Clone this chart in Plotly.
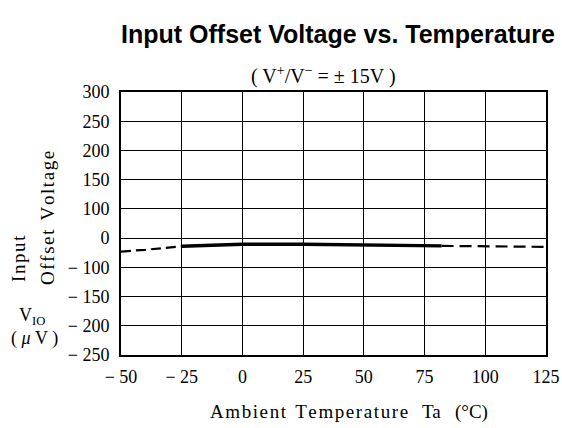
import plotly.graph_objects as go

# Data (µV, relative to the "0" gridline; one gridline step = 50)
temps_low = [-50, -40, -25]
vio_low = [-23, -20, -14]
temps_mid = [-25, 0, 25, 50, 75, 82]
vio_mid = [-14, -10.5, -10.5, -11.5, -13, -13.3]
temps_high = [82, 100, 125]
vio_high = [-13.3, -14, -15]

x_ticks = [-50, -25, 0, 25, 50, 75, 100, 125]
x_ticktext = ["− 50", "− 25", "0", "25", "50", "75", "100", "125"]
y_ticks = [-200, -150, -100, -50, 0, 50, 100, 150, 200, 250]
y_ticktext = ["− 250", "− 200", "− 150", "− 100", "0", "100", "150", "200", "250", "300"]

serif = "Liberation Serif, Times New Roman, serif"
HS = "\u200a"  # hair space for letter spacing


def spaced(s):
    return HS.join(list(s))


W, H = 562, 428
ML, MR, MT, MB = 121, 16, 92, 73

fig = go.Figure()
fig.add_trace(go.Scatter(x=temps_low, y=vio_low, mode="lines",
                         line=dict(color="black", width=2.2, dash="10px,5px"), showlegend=False))
fig.add_trace(go.Scatter(x=temps_mid, y=vio_mid, mode="lines",
                         line=dict(color="black", width=3.4), showlegend=False))
fig.add_trace(go.Scatter(x=temps_high, y=vio_high, mode="lines",
                         line=dict(color="black", width=2.2, dash="12px,6px"), showlegend=False))

fig.update_layout(
    width=W, height=H,
    margin=dict(l=ML, r=MR, t=MT, b=MB, autoexpand=False),
    paper_bgcolor="white", plot_bgcolor="white",
    font=dict(family=serif, size=18, color="black"),
    showlegend=False,
)
fig.update_xaxes(range=[-50, 125], tickvals=x_ticks, ticktext=x_ticktext,
                 showgrid=True, gridcolor="black", gridwidth=1.3,
                 showline=True, linecolor="black", linewidth=2, mirror=True,
                 ticks="", zeroline=False, tickfont=dict(family=serif, size=18),
                 ticklabelstandoff=4, automargin=False)
fig.update_yaxes(range=[-200, 250], tickvals=y_ticks, ticktext=y_ticktext,
                 showgrid=True, gridcolor="black", gridwidth=1.3,
                 showline=True, linecolor="black", linewidth=2, mirror=True,
                 ticks="", zeroline=False, tickfont=dict(family=serif, size=18),
                 ticklabelstandoff=6, automargin=False)

anns = [
    dict(text="<b>Input Offset Voltage vs. Temperature</b>", x=338, y=34,
         font=dict(family="Liberation Sans, Arial, sans-serif", size=25)),
    dict(text="( V<sup>+</sup>/V<sup>−</sup> = ± 15V )", x=323, y=76,
         font=dict(family=serif, size=20)),
    dict(text=spaced("Ambient") + "  " + spaced("Temperature") + "   Ta   (°C)", x=349, y=412,
         font=dict(family=serif, size=19)),
    dict(text=spaced("Input"), x=18, y=259, textangle=-90, font=dict(family=serif, size=19)),
    dict(text=spaced("Offset") + "  " + spaced("Voltage"), x=47, y=218, textangle=-90,
         font=dict(family=serif, size=19)),
    dict(text="V<sub>IO</sub>", x=32, y=316, font=dict(family=serif, size=18)),
    dict(text="( <i>μ</i> V )", x=34, y=338, font=dict(family=serif, size=18)),
]
pw, ph = W - ML - MR, H - MT - MB
for a in anns:
    fig.add_annotation(text=a["text"],
                       x=(a["x"] - ML) / pw, y=1 - (a["y"] - MT) / ph,
                       xref="paper", yref="paper", showarrow=False,
                       xanchor="center", yanchor="middle",
                       textangle=a.get("textangle", 0), font=a["font"])

fig.write_html("out.html", config={"displayModeBar": False},
               post_script="document.body.style.margin='0';document.body.style.padding='0';")
